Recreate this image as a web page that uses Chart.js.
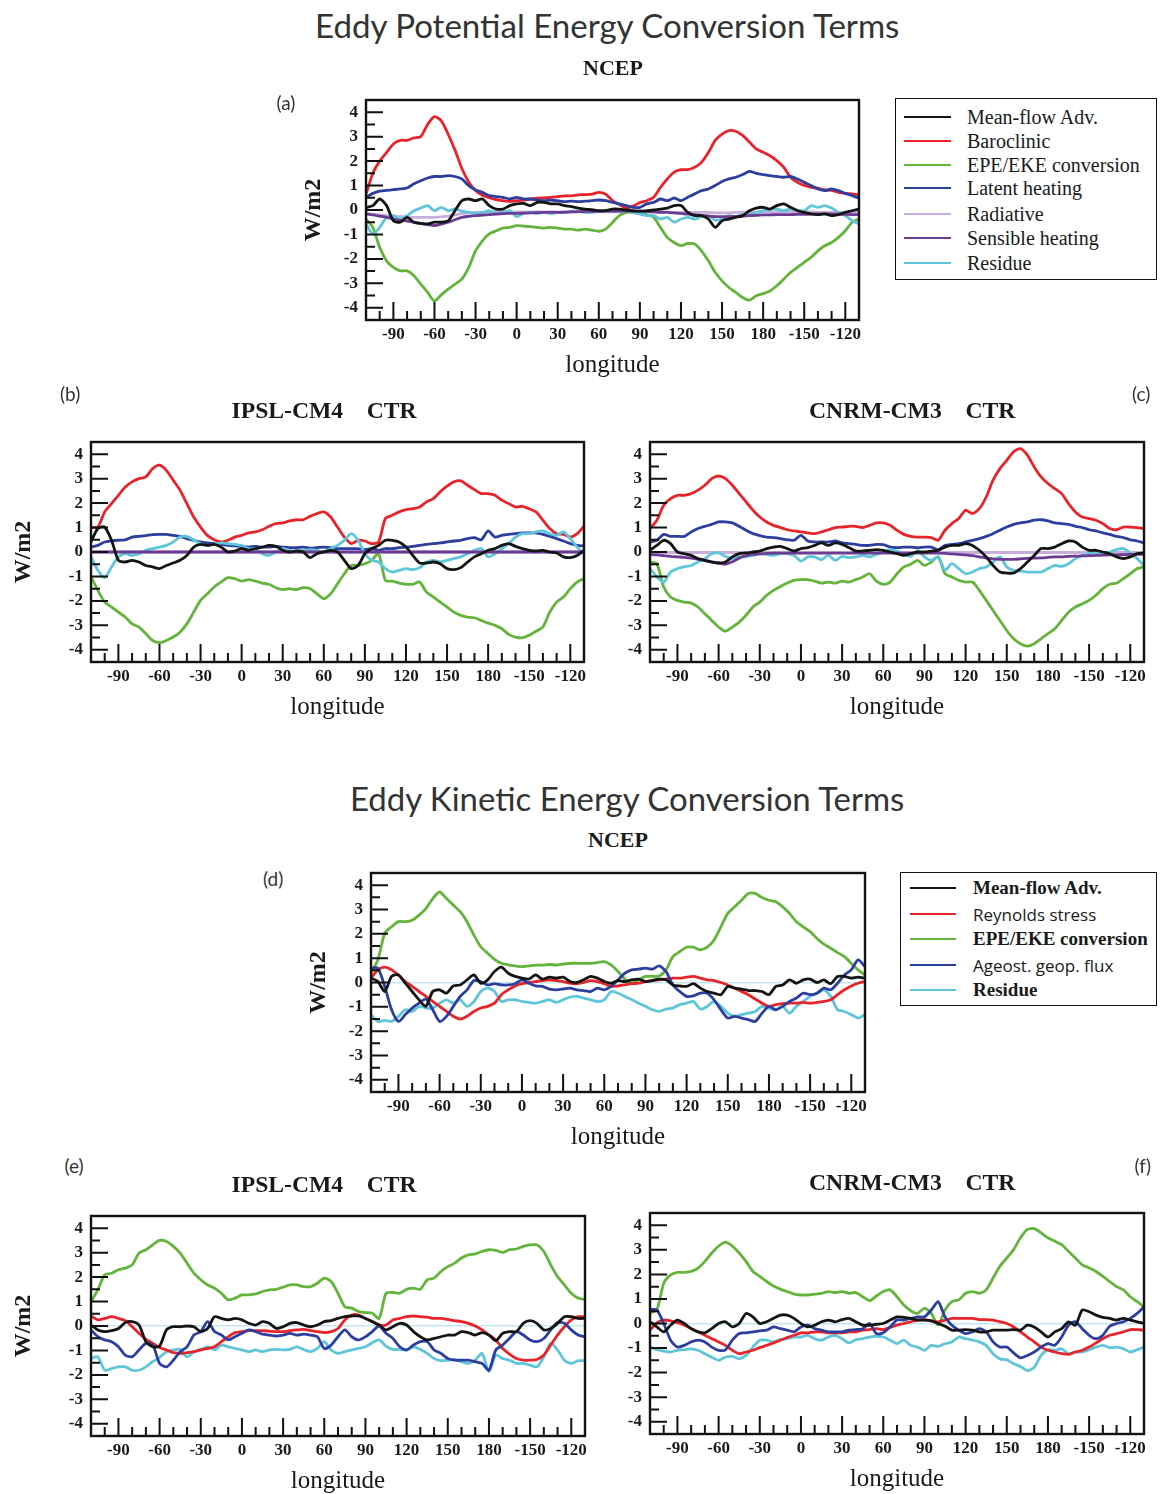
<!DOCTYPE html>
<html>
<head>
<meta charset="utf-8">
<script src="https://cdn.jsdelivr.net/npm/chart.js@4.4.1/dist/chart.umd.min.js"></script>
<style>
  body { margin: 0; background: #fff; }
  #fig { position: relative; width: 1160px; height: 1494px; overflow: hidden; background: #fff; }
  .t { position: absolute; white-space: pre; line-height: 1; }
  canvas { position: absolute; }
</style>
</head>
<body>
<div id="fig"></div>
<script>
// longitude grid (degrees east, continued past 180)
const longitude = [
  -110,-105,-100,-95,-90,-85,-80,-75,-70,-65,-60,-55,
  -50,-45,-40,-35,-30,-25,-20,-15,-10,-5,0,5,
  10,15,20,25,30,35,40,45,50,55,60,65,
  70,75,80,85,90,95,100,105,110,115,120,125,
  130,135,140,145,150,155,160,165,170,175,180,185,
  190,195,200,205,210,215,220,225,230,235,240,245,
  250];
const xTickValues = [-90, -60, -30, 0, 30, 60, 90, 120, 150, 180, 210, 240];
const xTickLabels = ['-90', '-60', '-30', '0', '30', '60', '90', '120', '150', '180', '-150', '-120'];
const yTickValues = [-4, -3, -2, -1, 0, 1, 2, 3, 4];
const yTickLabels = ['-4', '-3', '-2', '-1', '0', '1', '2', '3', '4'];

// (a) NCEP, eddy potential energy
const aMeanFlow = [
  0.1,0.18,0.45,0.18,-0.44,-0.5,-0.3,-0.5,-0.55,-0.57,-0.5,-0.5,
  -0.44,-0.03,0.38,0.45,0.38,0.45,0.18,0.04,0.04,0.18,0.25,0.27,
  0.18,0.31,0.31,0.25,0.25,0.18,0.14,0.08,0.04,0.01,-0.03,-0.03,
  0.04,0.04,0,-0.03,-0.05,-0.03,0,0.04,0.08,0.18,0.18,-0.1,
  -0.23,-0.23,-0.37,-0.71,-0.44,-0.37,-0.3,-0.23,-0.03,0.08,0.11,0.04,
  0.18,0.25,0.11,-0.03,-0.1,-0.16,-0.19,-0.16,-0.23,-0.19,-0.1,-0.03,
  0.04];
const aBaroclinic = [
  0.65,1.5,2.0,2.35,2.7,2.85,2.85,2.95,3.0,3.5,3.82,3.65,
  3.1,2.45,1.7,1.15,0.8,0.6,0.5,0.42,0.38,0.35,0.38,0.4,
  0.45,0.48,0.5,0.52,0.55,0.58,0.58,0.62,0.63,0.65,0.72,0.65,
  0.38,0.22,0.08,0.16,0.3,0.38,0.52,0.92,1.27,1.55,1.65,1.65,
  1.75,1.95,2.35,2.85,3.1,3.25,3.22,3.05,2.78,2.5,2.36,2.22,
  2.02,1.75,1.34,1.13,1.0,0.93,0.89,0.82,0.8,0.72,0.68,0.66,
  0.63];
const aConversion = [
  -0.37,-0.71,-1.53,-2.08,-2.35,-2.49,-2.49,-2.69,-3.03,-3.37,-3.72,-3.47,
  -3.24,-3.03,-2.83,-2.35,-1.67,-1.26,-0.98,-0.85,-0.74,-0.71,-0.64,-0.66,
  -0.68,-0.71,-0.74,-0.71,-0.74,-0.78,-0.78,-0.82,-0.78,-0.82,-0.87,-0.78,
  -0.51,-0.23,-0.1,-0.1,-0.16,-0.19,-0.3,-0.71,-1.12,-1.33,-1.46,-1.37,
  -1.39,-1.67,-2.08,-2.55,-2.9,-3.17,-3.37,-3.58,-3.69,-3.51,-3.42,-3.31,
  -3.1,-2.83,-2.55,-2.35,-2.14,-1.94,-1.67,-1.46,-1.33,-1.12,-0.85,-0.5,
  -0.37];
const aLatent = [
  0.52,0.68,0.77,0.8,0.83,0.86,0.9,1.07,1.2,1.31,1.37,1.37,
  1.41,1.37,1.27,1.0,0.82,0.72,0.59,0.55,0.52,0.45,0.52,0.45,
  0.45,0.41,0.38,0.41,0.38,0.34,0.36,0.34,0.36,0.38,0.41,0.38,
  0.31,0.25,0.18,0.11,0.11,0.25,0.31,0.45,0.38,0.49,0.38,0.52,
  0.66,0.79,0.86,1.0,1.17,1.27,1.34,1.45,1.58,1.5,1.45,1.41,
  1.37,1.34,1.37,1.27,1.13,1.0,0.86,0.79,0.86,0.79,0.68,0.59,
  0.49];
const aRadiative = [
  -0.15,-0.17,-0.2,-0.22,-0.25,-0.27,-0.28,-0.3,-0.3,-0.3,-0.3,-0.28,
  -0.25,-0.2,-0.15,-0.12,-0.1,-0.1,-0.08,-0.08,-0.08,-0.08,-0.08,-0.08,
  -0.08,-0.08,-0.08,-0.08,-0.08,-0.08,-0.08,-0.08,-0.08,-0.08,-0.08,-0.08,
  -0.08,-0.08,-0.08,-0.08,-0.08,-0.08,-0.08,-0.08,-0.08,-0.1,-0.1,-0.1,
  -0.1,-0.1,-0.1,-0.12,-0.12,-0.12,-0.1,-0.1,-0.1,-0.1,-0.08,-0.08,
  -0.08,-0.08,-0.08,-0.08,-0.08,-0.08,-0.1,-0.1,-0.1,-0.1,-0.1,-0.1,
  -0.1];
const aSensible = [
  -0.16,-0.2,-0.25,-0.3,-0.37,-0.42,-0.45,-0.5,-0.55,-0.6,-0.64,-0.58,
  -0.5,-0.4,-0.3,-0.26,-0.23,-0.21,-0.19,-0.17,-0.15,-0.14,-0.14,-0.13,
  -0.12,-0.11,-0.1,-0.1,-0.1,-0.09,-0.08,-0.07,-0.06,-0.06,-0.05,-0.05,
  -0.05,-0.05,-0.05,-0.05,-0.05,-0.06,-0.08,-0.1,-0.1,-0.12,-0.14,-0.17,
  -0.19,-0.22,-0.25,-0.27,-0.27,-0.27,-0.26,-0.25,-0.23,-0.22,-0.2,-0.2,
  -0.19,-0.19,-0.19,-0.18,-0.18,-0.17,-0.16,-0.16,-0.16,-0.17,-0.18,-0.19,
  -0.19];
const aResidue = [
  -0.57,-0.98,-0.71,-0.3,-0.23,-0.37,-0.23,-0.03,0.08,0.18,-0.03,0.11,
  -0.03,0.04,-0.05,-0.1,-0.14,-0.1,-0.03,-0.14,-0.1,-0.03,-0.27,-0.14,
  -0.1,-0.14,-0.1,-0.14,-0.1,-0.1,-0.05,-0.05,-0.1,-0.1,-0.05,-0.03,
  -0.05,-0.03,-0.05,-0.1,-0.16,-0.23,-0.23,-0.37,-0.3,-0.5,-0.37,-0.3,
  -0.37,-0.27,-0.23,-0.41,-0.37,-0.23,-0.27,-0.19,-0.19,-0.1,-0.03,0.04,
  0.04,-0.03,0.04,0,-0.03,0.18,0.11,0.18,0.08,-0.1,-0.23,-0.44,
  -0.57];

// (b) IPSL-CM4 CTR, eddy potential energy
const bMeanFlow = [
  0.41,0.96,1.02,0.48,-0.34,-0.41,-0.34,-0.41,-0.55,-0.61,-0.68,-0.55,
  -0.45,-0.34,-0.14,0.2,0.31,0.27,0.31,0.2,0,0.04,0.14,0.07,
  0.14,0.2,0.27,0.23,0.07,0,0.04,0,-0.23,-0.07,0,0.07,
  0,-0.34,-0.68,-0.55,-0.07,0.14,0.27,0.48,0.48,0.41,0.2,-0.14,
  -0.45,-0.45,-0.41,-0.48,-0.68,-0.72,-0.64,-0.41,-0.2,-0.07,0.07,0.14,
  0.27,0.34,0.23,0.14,0.07,0.04,0.07,0,-0.04,-0.2,-0.23,-0.14,
  0.07];
const bBaroclinic = [
  1.02,1.02,1.64,1.98,2.32,2.66,2.87,3.0,3.07,3.41,3.55,3.34,
  2.94,2.53,1.98,1.43,1.02,0.68,0.5,0.41,0.48,0.61,0.68,0.78,
  0.82,0.91,1.05,1.16,1.19,1.27,1.32,1.32,1.46,1.57,1.64,1.43,
  1.02,0.61,0.34,0.48,0.45,0.34,0.41,1.37,1.5,1.64,1.73,1.77,
  1.84,2.05,2.18,2.46,2.69,2.87,2.91,2.73,2.55,2.39,2.39,2.32,
  2.12,1.98,1.84,1.87,1.77,1.64,1.3,0.96,0.75,0.72,0.61,0.75,
  1.06];
const bConversion = [
  -1.02,-1.57,-2.05,-2.25,-2.46,-2.66,-2.94,-3.07,-3.34,-3.62,-3.71,-3.62,
  -3.48,-3.28,-2.94,-2.46,-1.98,-1.71,-1.43,-1.23,-1.05,-1.09,-1.19,-1.13,
  -1.19,-1.27,-1.32,-1.46,-1.54,-1.5,-1.54,-1.46,-1.5,-1.71,-1.91,-1.71,
  -1.3,-0.89,-0.55,-0.55,-0.48,-0.34,-0.07,-1.16,-1.19,-1.27,-1.32,-1.32,
  -1.23,-1.64,-1.84,-2.05,-2.25,-2.46,-2.59,-2.66,-2.69,-2.8,-2.91,-3.0,
  -3.14,-3.37,-3.48,-3.51,-3.41,-3.24,-3.07,-2.46,-2.05,-1.84,-1.5,-1.23,
  -1.09];
const bLatent = [
  0.2,0.27,0.41,0.45,0.48,0.5,0.61,0.64,0.67,0.71,0.72,0.72,
  0.68,0.64,0.55,0.48,0.41,0.37,0.34,0.31,0.27,0.25,0.23,0.2,
  0.23,0.2,0.2,0.23,0.2,0.18,0.18,0.2,0.16,0.18,0.2,0.18,
  0.14,0.14,0.14,0.14,0.1,0.14,0.07,0.14,0.14,0.18,0.2,0.23,
  0.27,0.31,0.34,0.37,0.41,0.45,0.48,0.55,0.59,0.5,0.86,0.61,
  0.68,0.72,0.75,0.78,0.78,0.78,0.72,0.64,0.55,0.45,0.34,0.27,
  0.25];
const bRadiative = [
  0,0,0,0,0,0,0,0,0,0,0,0,
  0,0,0,0,0,0,0,0,0,0,0,0,
  0,0,0,0,0,0,0,0,0,0,0,0,
  0,0,0,0,0,0,0,0,0,0,0,0,
  0,0,0,0,0,0,0,0,0,0,0,0,
  0,0,0,0,0,0,0,0,0,0,0,0,
  0];
const bSensible = [
  0,0,0,0,0,0,0,0,0,0,0,0,
  0,0,0,0,0,0,0,0,0,0,0,0,
  0,0,0,0,0,0,0,0,0,0,0,0,
  0,0,0,0,0,0,0,0,0,0,0,0,
  0,0,0,0,0,0,0,0,0,0,0,0,
  0,0,0,0,0,0,0,0,0,0,0,0,
  0];
const bResidue = [
  -0.2,-0.75,-1.05,-0.61,-0.2,-0.07,-0.14,-0.07,0.07,0.14,0.2,0.27,
  0.41,0.61,0.64,0.5,0.34,0.27,0.31,0.37,0.34,0.31,0.27,0.14,
  0.14,-0.07,-0.14,0,0.14,0.07,0.04,0.07,0.1,0.07,0,0.14,
  0.27,0.48,0.75,0.48,-0.07,-0.34,-0.41,-0.68,-0.82,-0.75,-0.68,-0.72,
  -0.64,-0.41,-0.34,-0.41,-0.34,-0.27,-0.2,-0.07,0.07,0.14,-0.2,-0.07,
  0.14,0.34,0.61,0.75,0.75,0.82,0.86,0.75,0.68,0.82,0.55,0.2,
  -0.07];

// (c) CNRM-CM3 CTR, eddy potential energy
const cMeanFlow = [
  0.07,0.27,0.48,0.34,0,-0.07,-0.14,-0.27,-0.34,-0.41,-0.45,-0.41,
  -0.2,-0.07,-0.04,0,0.04,0.14,0.2,0.23,0.14,0.04,0.14,0.18,
  0.27,0.37,0.27,0.37,0.31,0.18,0.04,0.04,0.07,0.1,0.07,0,
  -0.07,-0.14,-0.07,0,0,0.04,0.07,0.2,0.27,0.27,0.34,0.27,
  0.07,-0.2,-0.55,-0.82,-0.86,-0.86,-0.68,-0.41,-0.14,0.14,0.14,0.2,
  0.34,0.45,0.41,0.2,0.07,0.07,0,-0.07,-0.2,-0.27,-0.2,-0.07,
  -0.04];
const cBaroclinic = [
  0.96,1.3,1.91,2.18,2.32,2.32,2.39,2.53,2.73,3.0,3.11,3.0,
  2.73,2.39,2.05,1.71,1.43,1.23,1.09,1.0,0.91,0.86,0.82,0.78,
  0.75,0.82,0.91,1.0,1.02,1.05,1.05,1.0,1.09,1.19,1.19,1.09,
  0.89,0.72,0.64,0.61,0.61,0.59,0.48,0.89,1.16,1.37,1.71,1.57,
  1.77,2.25,2.94,3.41,3.75,4.1,4.23,3.96,3.48,3.07,2.8,2.59,
  2.39,1.98,1.64,1.43,1.37,1.3,1.16,0.96,0.91,1.02,1.02,1.0,
  0.96];
const cConversion = [
  -0.41,-0.48,-1.43,-1.84,-1.98,-2.05,-2.09,-2.25,-2.53,-2.8,-3.07,-3.24,
  -3.07,-2.87,-2.59,-2.25,-2.05,-1.77,-1.57,-1.41,-1.27,-1.16,-1.13,-1.13,
  -1.19,-1.27,-1.23,-1.27,-1.19,-1.23,-1.13,-1.02,-0.89,-1.19,-1.32,-1.23,
  -0.89,-0.61,-0.5,-0.34,-0.55,-0.41,-0.2,-0.89,-1.02,-1.16,-1.23,-1.23,
  -1.57,-1.98,-2.39,-2.8,-3.21,-3.55,-3.75,-3.85,-3.75,-3.55,-3.34,-3.14,
  -2.8,-2.46,-2.25,-2.12,-1.98,-1.77,-1.5,-1.32,-1.27,-1.09,-0.89,-0.68,
  -0.61];
const cLatent = [
  0.41,0.48,0.72,0.64,0.64,0.64,0.82,0.96,1.05,1.13,1.23,1.23,
  1.19,1.05,0.89,0.75,0.67,0.61,0.59,0.55,0.5,0.48,0.68,0.45,
  0.41,0.41,0.41,0.45,0.37,0.34,0.31,0.27,0.27,0.31,0.3,0.2,
  0.18,0.2,0.2,0.18,0.2,0.2,0.1,0.27,0.31,0.34,0.41,0.48,
  0.55,0.64,0.75,0.89,1.02,1.13,1.19,1.23,1.3,1.32,1.27,1.19,
  1.16,1.13,1.05,1.0,0.91,0.86,0.78,0.72,0.64,0.59,0.5,0.45,
  0.37];
const cRadiative = [
  -0.02,-0.02,-0.02,-0.02,-0.02,-0.02,-0.02,-0.02,-0.02,-0.02,-0.02,-0.02,
  -0.02,-0.02,-0.02,-0.02,-0.02,-0.02,-0.02,-0.02,-0.02,-0.02,-0.02,-0.02,
  -0.02,-0.02,-0.02,-0.02,-0.02,-0.02,-0.02,-0.02,-0.02,-0.02,-0.02,-0.02,
  -0.02,-0.02,-0.02,-0.02,-0.02,-0.02,-0.02,-0.02,-0.02,-0.02,-0.02,-0.02,
  -0.02,-0.02,-0.02,-0.02,-0.02,-0.02,-0.02,-0.02,-0.02,-0.02,-0.02,-0.02,
  -0.02,-0.02,-0.02,-0.02,-0.02,-0.02,-0.02,-0.02,-0.02,-0.02,-0.02,-0.02,
  -0.02];
const cSensible = [
  -0.1,-0.12,-0.15,-0.18,-0.2,-0.22,-0.25,-0.3,-0.35,-0.4,-0.45,-0.5,
  -0.4,-0.25,-0.15,-0.1,-0.08,-0.06,-0.05,-0.05,-0.05,-0.05,-0.05,-0.05,
  -0.05,-0.05,-0.05,-0.05,-0.05,-0.05,-0.05,-0.05,-0.05,-0.05,-0.05,-0.05,
  -0.05,-0.05,-0.05,-0.05,-0.05,-0.05,-0.05,-0.06,-0.08,-0.1,-0.12,-0.15,
  -0.2,-0.25,-0.28,-0.3,-0.3,-0.3,-0.28,-0.26,-0.25,-0.24,-0.22,-0.2,
  -0.2,-0.18,-0.17,-0.16,-0.15,-0.14,-0.13,-0.12,-0.12,-0.11,-0.1,-0.1,
  -0.1];
const cResidue = [
  -0.68,-1.02,-1.23,-0.82,-0.68,-0.61,-0.55,-0.41,-0.27,-0.07,-0.04,-0.18,
  -0.27,-0.2,-0.2,-0.14,-0.07,-0.1,-0.14,-0.07,-0.07,-0.14,-0.37,-0.2,
  -0.2,-0.31,-0.14,-0.34,-0.18,-0.23,-0.2,-0.14,-0.2,-0.1,0,0.1,
  0.04,-0.07,-0.18,0.07,-0.2,-0.34,-0.2,-0.75,-0.48,-0.68,-0.89,-0.82,
  -0.68,-0.61,-0.41,-0.2,-0.61,-0.75,-0.78,-0.82,-0.82,-0.82,-0.68,-0.55,
  -0.59,-0.48,-0.27,-0.14,-0.07,0,-0.07,0,0.1,0.14,-0.04,-0.27,
  -0.55];

// (d) NCEP, eddy kinetic energy
const dMeanFlow = [
  0.18,0.04,-0.37,0.25,0.31,-0.03,-0.37,-0.71,-0.98,-0.37,-0.3,-0.44,
  -0.14,-0.1,0.11,0.31,-0.03,0.11,0.45,0.63,0.38,0.25,0.18,0.14,
  0.31,0.14,0.22,0.18,0.22,0.04,0,0.11,0.25,0.18,0.04,-0.03,
  0.08,0.04,0.11,0.14,0.04,0.08,0.14,0.11,-0.1,-0.14,-0.16,-0.05,
  -0.23,-0.37,-0.44,-0.5,-0.16,-0.23,-0.27,-0.33,-0.33,-0.37,-0.5,-0.16,
  -0.1,0.11,-0.03,0.11,0.14,0,0.11,-0.05,0.25,0.25,0.18,0.22,
  0.18];
const dReynolds = [
  0.18,0.52,0.63,0.52,0.31,0.04,-0.16,-0.37,-0.57,-0.78,-0.98,-1.19,
  -1.39,-1.5,-1.39,-1.19,-1.05,-0.98,-0.85,-0.5,-0.3,-0.14,-0.05,0,
  0.04,0.08,0.11,0.08,0.04,-0.03,-0.05,0,0.08,0.04,-0.05,-0.16,
  -0.14,-0.1,-0.05,-0.03,0.04,0.08,0.11,0.14,0.18,0.18,0.22,0.25,
  0.18,0.11,0.08,0,-0.1,-0.23,-0.37,-0.5,-0.68,-0.85,-0.98,-0.91,
  -0.87,-0.85,-0.85,-0.82,-0.85,-0.82,-0.78,-0.71,-0.5,-0.3,-0.14,-0.03,
  0.04];
const dConversion = [
  0.38,0.93,2.02,2.29,2.5,2.5,2.56,2.77,3.04,3.45,3.72,3.45,
  3.18,2.91,2.5,1.95,1.47,1.2,0.95,0.79,0.72,0.68,0.65,0.68,
  0.71,0.71,0.74,0.72,0.76,0.79,0.79,0.79,0.79,0.82,0.86,0.72,
  0.45,0.14,-0.03,0.11,0.25,0.25,0.27,0.52,1.06,1.27,1.45,1.45,
  1.34,1.45,1.75,2.29,2.84,3.11,3.38,3.66,3.66,3.49,3.38,3.32,
  3.11,2.84,2.5,2.29,2.09,1.81,1.58,1.41,1.23,1.06,0.79,0.52,
  0.31];
const dAgeost = [
  0.59,0.59,-0.16,-1.12,-1.6,-1.32,-1.05,-0.85,-0.68,-1.12,-1.6,-1.39,
  -0.98,-0.57,-0.3,0.08,0.04,-0.1,-0.05,-0.1,-0.1,-0.05,0.11,-0.03,
  -0.14,-0.16,-0.27,-0.3,-0.27,-0.23,-0.3,-0.33,-0.37,-0.23,-0.3,-0.16,
  0.11,0.38,0.52,0.55,0.59,0.55,0.68,0.45,-0.1,-0.37,-0.57,-0.55,
  -0.44,-0.44,-0.71,-1.12,-1.46,-1.39,-1.46,-1.53,-1.6,-1.26,-0.98,-1.12,
  -0.98,-0.78,-0.64,-0.44,-0.5,-0.44,-0.23,-0.3,-0.03,0.31,0.52,0.93,
  0.65];
const dResidue = [
  -1.32,-1.6,-1.56,-1.6,-1.39,-1.12,-1.19,-0.98,-1.05,-1.05,-0.85,-0.71,
  -0.85,-0.71,-0.98,-0.78,-0.37,-0.23,-0.37,-0.78,-0.71,-0.71,-0.78,-0.82,
  -0.85,-0.78,-0.71,-0.82,-0.71,-0.6,-0.57,-0.64,-0.71,-0.78,-0.71,-0.37,
  -0.44,-0.57,-0.71,-0.85,-0.98,-1.12,-1.19,-1.09,-1.05,-0.91,-0.85,-0.78,
  -1.09,-0.98,-0.78,-0.98,-1.26,-1.39,-1.32,-1.26,-1.19,-0.98,-1.05,-1.12,
  -0.98,-1.26,-0.98,-0.78,-0.57,-0.44,-0.3,-0.57,-1.12,-1.19,-1.32,-1.46,
  -1.32];

// (e) IPSL-CM4 CTR, eddy kinetic energy
const eMeanFlow = [
  0.04,-0.16,-0.23,-0.19,-0.1,0.14,0.18,0.04,-0.64,-0.85,-0.82,-0.16,
  -0.03,-0.03,0,-0.03,-0.23,-0.1,0.38,0.31,0.25,0.31,0.25,0.11,
  0.04,0.18,0.11,-0.1,-0.03,0.11,0.14,0.04,-0.03,0.04,0.18,0.22,
  0.31,0.38,0.41,0.41,0.31,0.18,0.04,-0.16,-0.03,0.11,0.04,-0.23,
  -0.44,-0.57,-0.51,-0.44,-0.37,-0.37,-0.23,-0.27,-0.37,-0.27,-0.37,-0.6,
  -0.3,-0.23,-0.23,0.11,0.22,0.11,-0.16,-0.1,0.11,0.38,0.38,0.31,
  0.31];
const eReynolds = [
  0.41,0.25,0.31,0.38,0.31,0.22,-0.03,-0.3,-0.55,-0.71,-0.88,-0.98,
  -1.09,-1.12,-1.09,-1.05,-0.98,-0.92,-0.85,-0.64,-0.44,-0.27,-0.23,-0.19,
  -0.19,-0.19,-0.21,-0.23,-0.23,-0.19,-0.16,-0.14,-0.19,-0.23,-0.27,-0.23,
  -0.1,0.25,0.45,0.45,0.31,0.18,0.04,0.04,0.25,0.31,0.38,0.41,
  0.38,0.36,0.31,0.31,0.27,0.22,0.18,0.11,0,-0.16,-0.37,-0.57,
  -0.92,-1.15,-1.33,-1.4,-1.4,-1.37,-1.19,-0.78,-0.37,-0.03,0.25,0.38,
  0.38];
const eConversion = [
  1.0,1.48,2.09,2.16,2.3,2.37,2.5,2.98,3.12,3.32,3.5,3.46,
  3.26,2.98,2.57,2.16,1.89,1.68,1.55,1.34,1.07,1.14,1.27,1.27,
  1.31,1.41,1.48,1.5,1.59,1.68,1.68,1.61,1.61,1.75,1.96,1.82,
  1.34,0.79,0.73,0.59,0.55,0.52,0.31,1.34,1.37,1.34,1.5,1.55,
  1.5,1.89,1.96,2.23,2.43,2.57,2.78,2.91,2.95,3.05,3.12,3.09,
  3.01,3.12,3.15,3.26,3.32,3.32,3.05,2.5,2.02,1.68,1.34,1.14,
  1.09];
const eAgeost = [
  -0.16,-0.44,-0.57,-0.64,-0.85,-1.19,-1.26,-0.98,-0.71,-0.78,-1.53,-1.67,
  -1.4,-1.05,-0.85,-0.37,-0.23,0.18,-0.23,-0.37,-0.57,-0.44,-0.3,-0.16,
  -0.23,-0.33,-0.37,-0.41,-0.37,-0.3,-0.37,-0.33,-0.37,-0.44,-0.92,-0.78,
  -0.44,-0.16,-0.44,-0.57,-0.44,-0.23,0,-0.3,-0.51,-0.85,-0.98,-0.78,
  -0.64,-0.64,-0.98,-1.12,-1.33,-1.4,-1.4,-1.4,-1.46,-1.53,-1.81,-0.98,
  -0.78,-0.51,-0.23,-0.37,-0.57,-0.64,-0.51,-0.16,0.14,0.11,-0.16,-0.37,
  -0.44];
const eResidue = [
  -1.33,-1.26,-1.81,-1.74,-1.67,-1.67,-1.81,-1.81,-1.67,-1.46,-1.29,-1.05,
  -0.98,-0.96,-1.26,-1.05,-0.96,-0.85,-0.98,-0.78,-0.85,-0.92,-0.98,-1.05,
  -0.98,-1.05,-0.98,-0.96,-0.98,-0.96,-0.85,-0.96,-1.05,-0.92,-0.64,-0.98,
  -1.12,-1.05,-0.98,-0.92,-0.85,-0.68,-0.57,-0.82,-0.96,-0.96,-0.98,-0.85,
  -0.96,-1.12,-1.33,-1.42,-1.4,-1.37,-1.46,-1.53,-1.4,-1.12,-1.87,-1.19,
  -1.33,-1.4,-1.53,-1.53,-1.6,-1.67,-1.26,-0.71,-0.98,-1.4,-1.53,-1.42,
  -1.42];

// (f) CNRM-CM3 CTR, eddy kinetic energy
const fMeanFlow = [
  0.07,-0.14,-0.34,-0.07,0.14,0,-0.21,-0.34,-0.38,-0.21,0,0.07,
  -0.14,0,0.41,0.27,0,0.07,0.21,0.34,0.34,0.21,0,-0.14,
  -0.07,0.07,0.14,0.07,0.16,0.21,0.07,-0.07,-0.07,-0.03,0,0.14,
  0.27,0.25,0.21,0.14,0.14,0.11,0,-0.11,-0.27,-0.27,-0.25,-0.27,
  -0.34,-0.34,-0.27,-0.27,-0.27,-0.25,-0.27,-0.07,-0.14,-0.34,-0.55,-0.34,
  -0.21,0.07,-0.07,0.55,0.48,0.34,0.25,0.21,0.14,0.21,0.14,0.07,
  0];
const fReynolds = [
  -0.27,0.03,0.14,0.11,0.03,-0.07,-0.21,-0.34,-0.48,-0.62,-0.75,-0.89,
  -1.09,-1.23,-1.16,-1.09,-0.98,-0.89,-0.79,-0.68,-0.57,-0.48,-0.38,-0.38,
  -0.34,-0.34,-0.38,-0.38,-0.38,-0.34,-0.34,-0.27,-0.25,-0.21,-0.25,-0.16,
  -0.07,0,0.07,0.14,0.16,0.11,0.07,0.14,0.21,0.21,0.21,0.21,
  0.16,0.16,0.14,0.07,0,-0.14,-0.34,-0.55,-0.75,-0.96,-1.09,-1.16,
  -1.23,-1.26,-1.16,-1.09,-0.96,-0.79,-0.62,-0.48,-0.41,-0.34,-0.25,-0.25,
  -0.27];
const fConversion = [
  0.44,0.55,1.64,1.98,2.08,2.08,2.12,2.26,2.53,2.87,3.15,3.31,
  3.15,2.87,2.53,2.12,1.92,1.71,1.53,1.4,1.3,1.2,1.16,1.16,
  1.2,1.23,1.3,1.26,1.3,1.23,1.26,1.09,0.93,1.12,1.3,1.37,
  1.09,0.75,0.52,0.41,0.62,0.41,-0.07,0.55,0.89,0.96,1.23,1.3,
  1.23,1.37,1.85,2.33,2.67,3.01,3.49,3.83,3.86,3.69,3.49,3.35,
  3.21,2.94,2.67,2.39,2.26,2.12,1.92,1.71,1.5,1.37,1.09,0.89,
  0.68];
const fAgeost = [
  0.57,0.55,0,-0.68,-0.96,-0.89,-0.75,-0.68,-0.75,-0.96,-1.09,-1.07,
  -0.68,-0.41,-0.38,-0.34,-0.3,-0.27,-0.14,-0.21,-0.27,-0.34,-0.14,-0.07,
  -0.21,-0.27,-0.34,-0.34,-0.34,-0.27,-0.25,-0.21,0,-0.41,-0.38,-0.14,
  0.14,0.14,0.21,0.27,0.27,0.55,0.89,0.27,-0.07,-0.27,-0.41,-0.34,
  -0.21,-0.34,-0.75,-0.96,-0.96,-1.2,-1.4,-1.3,-1.16,-0.96,-0.82,-0.89,
  -0.55,-0.07,0.07,-0.21,-0.48,-0.62,-0.48,-0.11,0,0.07,0.21,0.41,
  0.68];
const fResidue = [
  -0.96,-1.07,-1.12,-1.16,-1.09,-1.07,-1.03,-1.09,-1.23,-1.37,-1.5,-1.37,
  -1.34,-1.44,-1.3,-0.96,-0.68,-0.68,-0.75,-0.66,-0.62,-0.55,-0.55,-0.48,
  -0.62,-0.68,-0.55,-0.48,-0.62,-0.79,-0.66,-0.62,-0.55,-0.52,-0.55,-0.68,
  -0.82,-0.68,-0.89,-0.96,-1.09,-0.89,-0.93,-0.82,-0.75,-0.55,-0.62,-0.68,
  -0.75,-0.89,-1.23,-1.44,-1.48,-1.64,-1.75,-1.92,-1.78,-1.3,-1.07,-1.09,
  -1.03,-1.23,-1.16,-1.16,-1.07,-0.96,-0.89,-0.98,-0.96,-1.03,-1.16,-1.07,
  -0.96];

const colors = {
  mean: '#141414', baro: '#e8242a', conv: '#62b43b', latent: '#2c3e9e',
  rad: '#c9aedb', sens: '#6c3c94', resid: '#5fc5db', reyn: '#e8242a', ageo: '#2c3e9e'
};
const ink = '#1a1a1a';
const serif = '"Liberation Serif", "Times New Roman", serif';
const fig = document.getElementById('fig');

function text(str, x, y, font, opt = {}) {
  const el = document.createElement('div');
  el.className = 't';
  el.textContent = str;
  el.style.font = font;
  el.style.color = opt.color || ink;
  fig.appendChild(el);
  if (opt.fit) {
    const fs = parseFloat(getComputedStyle(el).fontSize);
    el.style.fontSize = (fs * opt.fit / el.offsetWidth) + 'px';
  }
  const w = el.offsetWidth, h = el.offsetHeight;
  el.style.left = (opt.left ? x : x - w / 2) + 'px';
  el.style.top = (y - h / 2) + 'px';
}

// box/tick marks drawn inside the plot frame like the original
const frame = {
  id: 'frame',
  afterDatasetsDraw(chart) {
    const { ctx, chartArea: a, scales: { x, y } } = chart;
    ctx.save();
    ctx.strokeStyle = '#111';
    ctx.lineWidth = 2;
    ctx.beginPath();
    for (let v = -100; v < 250; v += 10) {
      const px = x.getPixelForValue(v);
      ctx.moveTo(px, a.bottom);
      ctx.lineTo(px, a.bottom - (v % 30 === 0 ? 18 : 9));
    }
    for (let v = -4; v <= 4; v += 0.5) {
      const py = y.getPixelForValue(v);
      ctx.moveTo(a.left, py);
      ctx.lineTo(a.left + (Number.isInteger(v) ? 17 : 9), py);
    }
    ctx.stroke();
    ctx.lineWidth = 2.4;
    ctx.strokeRect(a.left, a.top, a.right - a.left, a.bottom - a.top);
    ctx.restore();
  }
};

function panel(p) {
  const [bl, bt, bw, bh] = p.box;
  const padT = 20, padR = 16, xh = 64;
  const cv = document.createElement('canvas');
  cv.width = p.yw + bw + padR;
  cv.height = padT + bh + xh;
  cv.style.left = (bl - p.yw) + 'px';
  cv.style.top = (bt - padT) + 'px';
  fig.appendChild(cv);
  const tickFont = { family: serif, size: 17, weight: 'bold' };
  new Chart(cv, {
    type: 'line',
    data: {
      datasets: p.series.map(([vals, key]) => ({
        data: longitude.map((lon, i) => ({ x: lon, y: vals[i] })),
        borderColor: colors[key], borderWidth: 2.8, pointRadius: 0,
        tension: 0.25, fill: false, borderJoinStyle: 'round', borderCapStyle: 'round'
      }))
    },
    options: {
      responsive: false, animation: false, devicePixelRatio: 1,
      layout: { padding: { top: padT, right: padR, left: 0, bottom: 0 } },
      plugins: { legend: { display: false }, tooltip: { enabled: false } },
      scales: {
        x: {
          type: 'linear', min: -110, max: 250,
          afterBuildTicks: s => { s.ticks = xTickValues.map(v => ({ value: v })); },
          afterFit: s => { s.height = xh; },
          ticks: { autoSkip: false, maxRotation: 0, padding: 4, font: tickFont, color: ink,
                   callback: (v, i) => xTickLabels[i] },
          grid: { display: false, drawTicks: false },
          border: { display: false },
          title: { display: true, text: 'longitude', color: ink,
                   font: { family: serif, size: 25 }, padding: { top: 0, bottom: 4 } }
        },
        y: {
          type: 'linear', min: -4.5, max: 4.5,
          afterBuildTicks: s => { s.ticks = yTickValues.map(v => ({ value: v })); },
          afterFit: s => { s.width = p.yw; },
          ticks: { padding: 8, font: tickFont, color: ink, callback: (v, i) => yTickLabels[i] },
          grid: { display: p.zero, drawTicks: false, lineWidth: 1.5,
                  color: c => (c.tick && c.tick.value === 0) ? '#c4e7ef' : 'rgba(0,0,0,0)' },
          border: { display: false },
          title: { display: p.yTitle, text: 'W/m2', color: ink,
                   font: { family: serif, size: 24, weight: 'bold' }, padding: { top: 4, bottom: 0 } }
        }
      }
    },
    plugins: [frame]
  });
}

// first entry is drawn on top
const epeSeries = (m, b, c, l, r, s, re) =>
  [[m, 'mean'], [s, 'sens'], [re, 'resid'], [l, 'latent'], [b, 'baro'], [c, 'conv'], [r, 'rad']];
const ekeSeries = (m, r, c, a, re) =>
  [[m, 'mean'], [a, 'ageo'], [r, 'reyn'], [re, 'resid'], [c, 'conv']];

panel({ box: [366, 100, 493, 220], yw: 71, yTitle: true, zero: false,
        series: epeSeries(aMeanFlow, aBaroclinic, aConversion, aLatent, aRadiative, aSensible, aResidue) });
panel({ box: [91, 442, 493, 220], yw: 86, yTitle: true, zero: false,
        series: epeSeries(bMeanFlow, bBaroclinic, bConversion, bLatent, bRadiative, bSensible, bResidue) });
panel({ box: [650, 442, 494, 220], yw: 70, yTitle: false, zero: false,
        series: epeSeries(cMeanFlow, cBaroclinic, cConversion, cLatent, cRadiative, cSensible, cResidue) });
panel({ box: [371, 873, 494, 219], yw: 71, yTitle: true, zero: true,
        series: ekeSeries(dMeanFlow, dReynolds, dConversion, dAgeost, dResidue) });
panel({ box: [91, 1216, 494, 220], yw: 86, yTitle: true, zero: true,
        series: ekeSeries(eMeanFlow, eReynolds, eConversion, eAgeost, eResidue) });
panel({ box: [650, 1213, 494, 221], yw: 70, yTitle: false, zero: true,
        series: ekeSeries(fMeanFlow, fReynolds, fConversion, fAgeost, fResidue) });

// titles and panel labels
const sansT = 'Lato, "Open Sans", sans-serif';
text('Eddy Potential Energy Conversion Terms', 607, 25, `400 31px ${sansT}`, { fit: 585, color: '#333' });
text('Eddy Kinetic Energy Conversion Terms', 627, 798, `400 31px ${sansT}`, { fit: 555, color: '#333' });
text('NCEP', 613, 68, `bold 22px ${serif}`);
text('NCEP', 618, 840, `bold 22px ${serif}`);
text('IPSL-CM4    CTR', 324, 410, `bold 23px ${serif}`, { fit: 185 });
text('CNRM-CM3    CTR', 912, 410, `bold 23px ${serif}`, { fit: 207 });
text('IPSL-CM4    CTR', 324, 1184, `bold 23px ${serif}`, { fit: 185 });
text('CNRM-CM3    CTR', 912, 1182, `bold 23px ${serif}`, { fit: 207 });
const tagFont = `400 19px ${sansT}`;
text('(a)', 286, 102, tagFont, { color: '#333' });
text('(b)', 70, 393, tagFont, { color: '#333' });
text('(c)', 1141, 393, tagFont, { color: '#333' });
text('(d)', 273, 878, tagFont, { color: '#333' });
text('(e)', 74, 1165, tagFont, { color: '#333' });
text('(f)', 1143, 1165, tagFont, { color: '#333' });

// legends
function legend(box, lineX, textX, rows) {
  const b = document.createElement('div');
  b.style.cssText = `position:absolute;left:${box[0]}px;top:${box[1]}px;width:${box[2]}px;height:${box[3]}px;border:1.6px solid #111;box-sizing:border-box;`;
  fig.appendChild(b);
  rows.forEach(([label, key, y, font]) => {
    const ln = document.createElement('div');
    ln.style.cssText = `position:absolute;left:${lineX[0]}px;top:${y - 1.3}px;width:${lineX[1] - lineX[0]}px;height:2.6px;background:${colors[key]};`;
    fig.appendChild(ln);
    text(label, textX, y, font, { left: true });
  });
}
const lgSerif = `400 20px ${serif}`;
const lgBold = `bold 19px ${serif}`;
const lgSans = `400 17px "Open Sans", sans-serif`;
legend([895, 98, 262, 182], [904, 951], 967, [
  ['Mean-flow Adv.', 'mean', 117, lgSerif],
  ['Baroclinic', 'baro', 141, lgSerif],
  ['EPE/EKE conversion', 'conv', 165, lgSerif],
  ['Latent heating', 'latent', 188, lgSerif],
  ['Radiative', 'rad', 214, lgSerif],
  ['Sensible heating', 'sens', 238, lgSerif],
  ['Residue', 'resid', 263, lgSerif]
]);
legend([900, 872, 257, 134], [910, 956], 973, [
  ['Mean-flow Adv.', 'mean', 888, lgBold],
  ['Reynolds stress', 'reyn', 914, lgSans],
  ['EPE/EKE conversion', 'conv', 939, lgBold],
  ['Ageost. geop. flux', 'ageo', 965, lgSans],
  ['Residue', 'resid', 990, lgBold]
]);
</script>
</body>
</html>
